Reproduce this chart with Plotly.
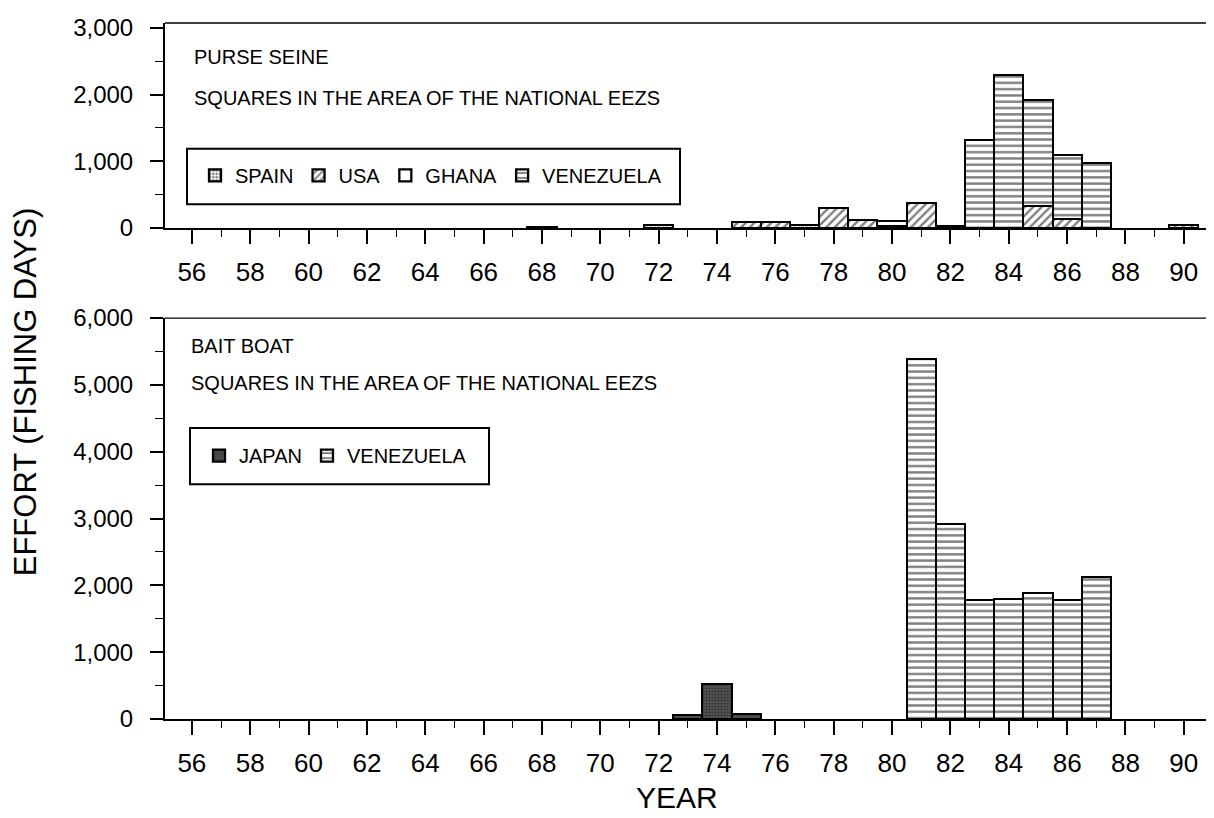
import plotly.graph_objects as go

# ---------------- data ----------------
ps_years = [68, 72, 75, 76, 77, 78, 79, 80, 81, 82, 83, 84, 85, 86, 87, 90]
ps_spain = [15, 40, None, None, 50, None, None, None, None, None, None, None, None, None, None, None]
ps_usa = [None, None, 85, 95, None, 300, 115, 35, 370, 30, None, None, 330, 140, None, 45]
ps_ghana = [None, None, None, None, None, None, None, 70, None, None, None, None, None, None, None, None]
ps_venezuela = [None, None, None, None, None, None, None, None, None, None, 1320, 2300, 1590, 955, 980, None]

bb_years = [73, 74, 75, 81, 82, 83, 84, 85, 86, 87]
bb_japan = [65, 530, 75, None, None, None, None, None, None, None]
bb_venezuela = [None, None, None, 5390, 2920, 1780, 1790, 1885, 1775, 2120]

panel_labels = ["PURSE SEINE", "BAIT BOAT"]
panel_sub = "SQUARES IN THE AREA OF THE NATIONAL EEZS"
y_title = "EFFORT (FISHING DAYS)"
x_title = "YEAR"

# ---------------- layout geometry (pixels) ----------------
# the page body has an 8px margin, so the figure is drawn 8px in from the window corner
OFF = 8
W, H = 1214 - OFF, 818 - OFF
L, R, T, B = 157, 1, 8, 99
PW, PH = W - L - R, H - T - B


def px(x):  # window pixel -> paper fraction
    return (x - OFF - L) / PW


def py(y):
    return (H - B - (y - OFF)) / PH


FONT = "Liberation Sans, Arial, sans-serif"
OUT = dict(color="black", width=2.3)
VEN_PAT = dict(shape="-", fgcolor="black", bgcolor="white", size=6.3, solidity=0.38)

fig = go.Figure()

# purse seine
fig.add_bar(x=ps_years, y=ps_spain, name="SPAIN", width=1, xaxis="x", yaxis="y", legend="legend",
            marker=dict(color="white", line=OUT,
                        pattern=dict(shape=".", fgcolor="black", bgcolor="white", size=4, solidity=0.5)))
fig.add_bar(x=ps_years, y=ps_usa, name="USA", width=1, xaxis="x", yaxis="y", legend="legend",
            marker=dict(color="white", line=OUT,
                        pattern=dict(shape="/", fgcolor="black", bgcolor="white", size=6, solidity=0.4)))
fig.add_bar(x=ps_years, y=ps_ghana, name="GHANA", width=1, xaxis="x", yaxis="y", legend="legend",
            marker=dict(color="white", line=OUT))
fig.add_bar(x=ps_years, y=ps_venezuela, name="VENEZUELA", width=1, xaxis="x", yaxis="y", legend="legend",
            marker=dict(color="white", line=OUT, pattern=VEN_PAT))

# bait boat
fig.add_bar(x=bb_years, y=bb_japan, name="JAPAN", width=1, xaxis="x2", yaxis="y2", legend="legend2",
            marker=dict(color="#3c3c3c", line=OUT,
                        pattern=dict(shape=".", fgcolor="#151515", bgcolor="#5a5a5a", size=3, solidity=0.5)))
fig.add_bar(x=bb_years, y=bb_venezuela, name="VENEZUELA", width=1, xaxis="x2", yaxis="y2", legend="legend2",
            marker=dict(color="white", line=OUT, pattern=VEN_PAT))

top_dom = [py(223), 1.0]
bot_dom = [0.0, py(314)]

xcommon = dict(range=[55.08, 91], tickmode="linear", tick0=56, dtick=2, ticks="outside", ticklen=14,
               tickwidth=1.6, tickcolor="black", showline=True, linewidth=2, linecolor="black",
               showgrid=False, zeroline=False, ticklabelstandoff=6,
               tickfont=dict(family=FONT, size=26, color="black"),
               minor=dict(dtick=1, tick0=55, ticks="outside", ticklen=7, tickwidth=1.4, tickcolor="black", showgrid=False))
ycommon = dict(ticks="outside", ticklen=13, tickwidth=1.6, tickcolor="black", showline=True, linewidth=2,
               linecolor="black", showgrid=False, zeroline=False, tickformat=",d", ticklabelstandoff=12,
               tickfont=dict(family=FONT, size=24, color="black"),
               minor=dict(dtick=500, ticks="outside", ticklen=8, tickwidth=1.4, tickcolor="black", showgrid=False))

fig.update_layout(
    width=W, height=H, margin=dict(l=L, r=R, t=T, b=B),
    paper_bgcolor="white", plot_bgcolor="white",
    barmode="stack", bargap=0,
    xaxis=dict(domain=[0, 1], anchor="y", **xcommon),
    yaxis=dict(domain=top_dom, anchor="x", range=[0, 3075], tick0=0, dtick=1000, **ycommon),
    xaxis2=dict(domain=[0, 1], anchor="y2", **xcommon),
    yaxis2=dict(domain=bot_dom, anchor="x2", range=[0, 6000], tick0=0, dtick=1000, **ycommon),
    legend=dict(orientation="h", x=px(195), y=py(170), xanchor="left", yanchor="middle",
                bgcolor="rgba(0,0,0,0)", borderwidth=0, traceorder="normal",
                font=dict(family=FONT, size=20, color="black")),
    legend2=dict(orientation="h", x=px(199), y=py(453), xanchor="left", yanchor="middle",
                 bgcolor="rgba(0,0,0,0)", borderwidth=0, traceorder="normal",
                 font=dict(family=FONT, size=20, color="black")),
)

shapes = []
# thin top/right borders of the panels
for d in (top_dom, bot_dom):
    shapes.append(dict(type="line", xref="paper", yref="paper", x0=0, x1=1, y0=d[1], y1=d[1],
                       line=dict(color="black", width=1.3)))
    shapes.append(dict(type="line", xref="paper", yref="paper", x0=1, x1=1, y0=d[0], y1=d[1],
                       line=dict(color="black", width=1.3)))
# legend boxes
shapes.append(dict(type="rect", xref="paper", yref="paper", x0=px(187), x1=px(680), y0=py(199), y1=py(143),
                   line=dict(color="black", width=2)))
shapes.append(dict(type="rect", xref="paper", yref="paper", x0=px(190), x1=px(489), y0=py(482), y1=py(425),
                   line=dict(color="black", width=2)))
fig.update_layout(shapes=shapes)

ann = []
txt = dict(family=FONT, size=20, color="black")
ann.append(dict(text=panel_labels[0], x=px(192), y=py(50), xref="paper", yref="paper", xanchor="left",
                yanchor="middle", showarrow=False, font=txt))
ann.append(dict(text=panel_sub, x=px(192), y=py(92), xref="paper", yref="paper", xanchor="left",
                yanchor="middle", showarrow=False, font=txt))
ann.append(dict(text=panel_labels[1], x=px(189), y=py(342), xref="paper", yref="paper", xanchor="left",
                yanchor="middle", showarrow=False, font=txt))
ann.append(dict(text=panel_sub, x=px(189), y=py(380), xref="paper", yref="paper", xanchor="left",
                yanchor="middle", showarrow=False, font=txt))
ann.append(dict(text=y_title, x=px(25), y=py(389), xref="paper", yref="paper", xanchor="center",
                yanchor="middle", textangle=-90, showarrow=False, font=dict(family=FONT, size=31, color="black")))
ann.append(dict(text=x_title, x=px(677), y=py(817), xref="paper", yref="paper", xanchor="center",
                yanchor="bottom", showarrow=False, font=dict(family=FONT, size=30, color="black")))
fig.update_layout(annotations=ann)

fig.write_html("out.html")
